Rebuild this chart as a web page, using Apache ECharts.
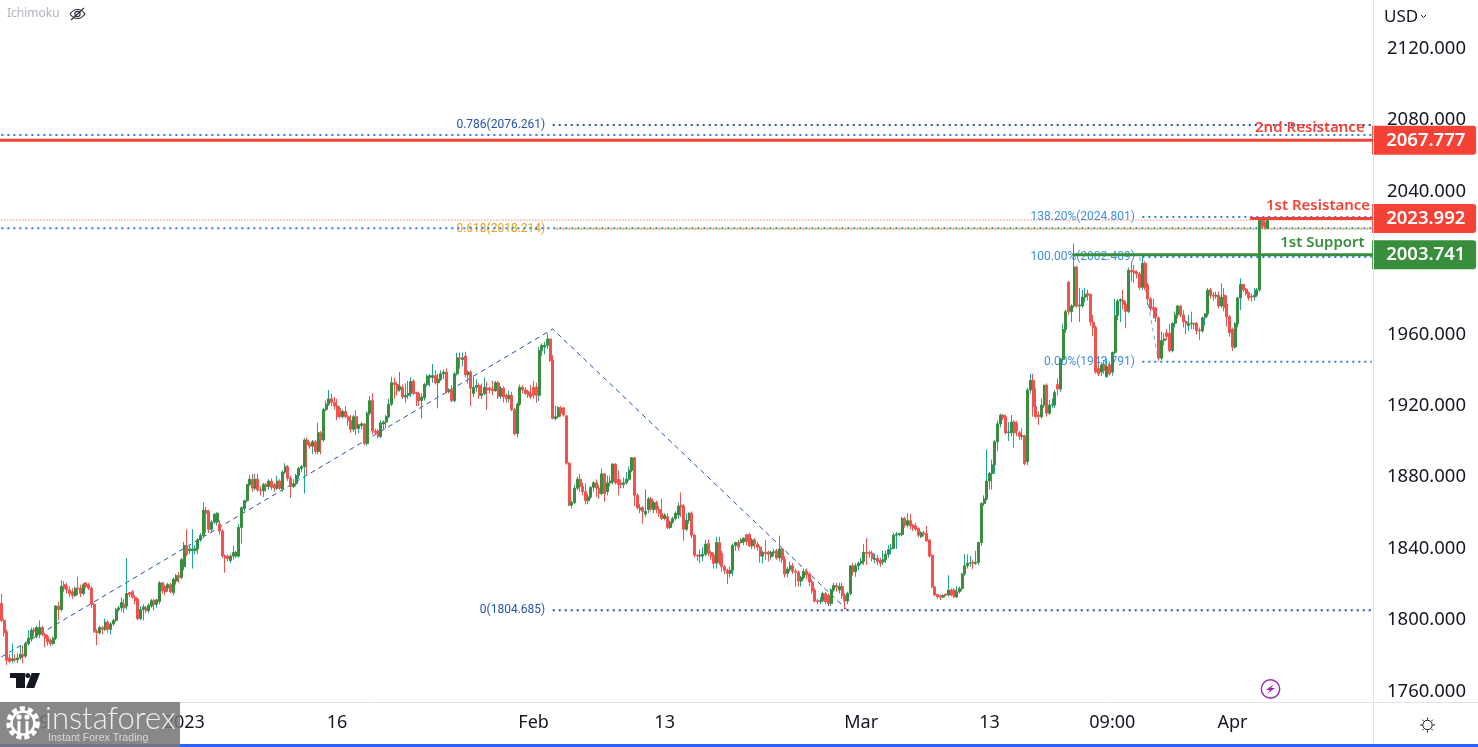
<!DOCTYPE html>
<html><head><meta charset="utf-8">
<style>html,body{margin:0;padding:0;background:#fff}#c{width:1478px;height:747px}</style>
<script src="https://cdn.jsdelivr.net/npm/echarts@6/dist/echarts.min.js"></script>
</head><body><div id="c"></div>
<script>
// each bar: [open, close, low, high]
const barsDec = [
[1808.5,1799,1798,1814],[1799,1792,1790,1800],[1792.6,1776.7,1774,1794],[1778,1776,1775,1780],[1776.5,1777.5,1775,1786],[1777.5,1777,1776,1780],[1777,1778,1775,1781],[1778,1780,1777,1785],[1780,1779,1775,1785],[1779,1786,1778,1787],
[1786,1789,1785,1793.5],[1788.5,1793.5,1787,1795],[1794,1793,1790,1795],[1790,1795,1789,1796],[1791,1795,1789,1799],[1795,1791,1790,1796],[1791,1789,1784,1792],[1790,1787,1785,1791],[1788,1786,1784.5,1789],[1786,1789,1785,1790],
[1789,1807,1788,1807.5],[1807,1805,1799,1809.5],[1805,1818,1804,1821.5],[1819,1817,1815,1821],[1818,1816,1814,1820],[1816,1814,1812,1818],[1815,1813,1811,1817],[1813,1817,1812,1818],[1817,1816.5,1813,1823.4],[1817,1814,1812,1819],
[1814,1819,1813,1820],[1820,1818,1817,1820.5],[1819,1817,1816,1820],[1817,1808,1806,1818],[1808,1793,1792,1809],[1793,1792,1785,1794],[1792,1795,1791,1796],[1795,1794,1791,1796],[1794,1798,1793,1800],[1798,1794,1792,1799],
[1794,1797,1791,1798],[1797,1799,1796,1800],[1799,1805,1798,1806],[1805,1806,1804,1807],[1806,1809,1804,1812],[1808,1806,1803,1811],[1807,1814,1805,1834],[1814.5,1813.5,1812,1815],[1815,1812,1811,1816],[1812,1810,1808,1813],
[1811,1800,1799,1811.5],[1800,1805,1799,1807],[1805,1806.5,1799,1808],[1806,1804.5,1803,1807],[1804.5,1807.5,1803,1808.5],[1807,1810,1806,1811],[1810,1808,1804.5,1811],[1808,1810.5,1806,1811],[1809.5,1820,1808,1821],[1820,1815.5,1814,1820.5],
[1818,1815,1813,1819],[1817,1819,1815,1820],[1819,1815,1814,1820],[1814.5,1822,1813,1823],[1821,1824,1819,1825],[1824,1823,1820,1826],[1823,1833,1822,1834],[1829,1841,1827,1843],[1840,1836,1835,1850],[1838,1839,1836,1841],
[1838,1839,1828,1850],[1838,1839,1836,1841],[1839,1844,1836,1845],[1844,1846.5,1843,1848],[1846.5,1860.7,1845,1865],[1860.5,1859,1848,1862.6],[1860,1850,1848,1861],[1850,1854,1848,1855],[1854,1858.5,1853,1859],[1854,1859,1852,1859.5]
];
const barsJan = [
[1853,1849,1847,1855],[1849,1835,1834,1850],[1835,1834,1825.6,1836],[1835,1833.5,1832,1836],[1832.5,1835,1831,1836],[1835,1837,1833,1841],[1835,1837,1834,1838],[1835,1851,1834,1853],[1851,1862,1842,1863],[1861.5,1866,1860,1866.5],
[1866,1875,1865,1875.5],[1875,1878,1874,1880.3],[1878,1873,1871,1881],[1873,1878,1872,1881],[1878,1872,1871,1881],[1872,1871.5,1869,1874],[1871.5,1875,1868,1876],[1875,1874,1871,1876],[1874,1877,1872,1878],[1877,1873.5,1872,1878.5],
[1875,1873,1871,1876],[1873,1877,1872,1880],[1877,1873,1872,1878],[1872.5,1882,1871,1883],[1882,1885,1881,1887],[1885,1878.5,1877,1886],[1878.5,1874,1867.5,1880],[1874,1875.5,1873,1878],[1875.5,1880,1874,1881],[1880,1884,1878,1885],
[1884,1885,1882,1886],[1885,1900,1870,1901],[1900,1897.5,1880,1901.4],[1898,1896.5,1895,1899],[1896.5,1899,1892,1900],[1899,1893.5,1892,1900],[1893.5,1904,1892,1909.6],[1904,1900,1892,1905],[1900,1917,1899,1918],[1917,1920,1916,1922],
[1920,1923,1919,1928],[1923,1921,1919,1926],[1921,1919,1917,1924],[1919,1913,1911,1923],[1917.6,1913,1912,1919],[1913,1916,1912,1917],[1916,1913,1912,1919],[1913,1911,1908,1914],[1911,1906,1904,1914],[1906,1913,1904.6,1914],
[1913,1906.5,1902.7,1916.7],[1906.5,1908.5,1903.6,1909],[1908,1909,1906,1910],[1909,1898,1897,1909.5],[1898,1915,1897,1916],[1915,1922,1914,1924.6],[1922,1905,1903,1926],[1905,1904,1902.7,1906.4],[1905,1902,1901,1906],[1902,1909.5,1901,1911],
[1909,1910,1906,1911],[1910,1913,1906.4,1914],[1913,1920,1912,1923],[1920,1932,1919,1935.4],[1932,1931,1923,1935],[1931,1927.5,1925,1932.6],[1928,1930,1927,1938],[1929.5,1924,1923,1931],[1924,1925,1920.8,1931.6],[1925,1926,1923,1933],
[1926,1932.7,1924,1935],[1933,1926,1925,1934],[1926.5,1926,1919,1927],[1926,1922,1919,1927],[1922,1924,1912,1926],[1923.5,1931,1922,1932],[1931,1935.6,1930,1937],[1935,1936,1930,1937],[1935,1936,1932,1942.5],[1936,1932,1931,1939],
[1932,1934,1917.7,1937],[1934,1937,1933,1939],[1937,1938,1934,1939.5],[1938,1927,1926,1940],[1927,1928,1926,1929],[1928,1922,1921,1930.7],[1922,1937,1921,1938],[1937,1946,1936,1948.8],[1946,1945.5,1940,1949],[1945,1946,1941,1949]
];
const barsFeb = [
[1947,1936.5,1935,1949.4],[1936.5,1938,1931.6,1939],[1938,1929,1919,1939],[1926,1929.5,1924,1935.4],[1929.5,1930.5,1927,1934],[1930.5,1925,1923,1932],[1925,1926,1923,1931.6],[1926,1929.5,1925,1935],[1929,1928,1916.7,1932.6],[1929,1928,1926,1930],
[1928.5,1927.5,1925,1933],[1927.5,1932,1927,1933],[1932,1924.5,1923,1933],[1924.5,1929,1923,1930],[1929,1924,1921,1930],[1925,1923,1921,1926],[1923,1925,1921,1927.5],[1925,1917,1916,1927],[1917,1903.5,1902.5,1918],[1903.5,1920,1901.4,1921],
[1920,1929.5,1919,1931],[1929.5,1928,1926,1930.7],[1928,1926,1925,1929.5],[1927,1925,1923.5,1928],[1926,1924,1923,1930.7],[1929.5,1925,1923,1933],[1929.5,1925,1920.8,1932],[1925,1950,1921.8,1952],[1950,1953,1947,1954],[1952,1953,1948,1955],
[1953,1956.5,1951,1959.6],[1956.5,1944.5,1943.5,1956.8],[1944.5,1912,1911.5,1947.5],[1912,1913,1911,1919],[1913,1918,1912,1919],[1918,1915,1913,1919],[1918,1914,1913,1918.2],[1913.5,1887,1886,1914],[1887,1863.5,1863,1887.5],[1863.5,1865,1861.7,1866],
[1865,1873,1864,1875],[1873,1878,1872,1879.4],[1878,1874,1871,1881],[1874,1871,1869,1876],[1871,1866,1864,1875.7],[1866,1868,1864,1870],[1868,1873.5,1867,1874],[1873.5,1876,1871,1877],[1876,1873,1868,1878],[1873,1870,1867,1875],
[1870,1881,1869,1884],[1881,1870,1865.4,1881.5],[1871,1876,1869,1880],[1876,1877,1874,1880],[1876.5,1886.5,1875,1887],[1886.5,1876,1875,1887],[1878,1875,1869,1883],[1876,1875,1873,1878],[1875,1876,1873,1879],[1876,1878,1875,1882],
[1878,1883,1877,1885],[1883,1890,1882,1890.5],[1890,1869,1863,1890.5],[1869,1862,1861,1870],[1861,1862,1859,1864],[1862,1860,1853,1863],[1858.5,1860,1857,1872.3],[1861,1867,1859,1868],[1867,1861.5,1860,1868],[1861,1865,1859,1866],
[1865,1861,1859,1866],[1861,1859,1857,1863],[1859,1856,1855,1867],[1856,1858,1855,1859],[1857,1851,1850,1859],[1851,1854,1850,1855],[1854,1856,1853,1857],[1856,1859,1855,1860],[1858,1863,1856,1865],[1863.5,1862.5,1857,1870.6],
[1863,1850,1843.6,1864],[1850,1855,1849,1859],[1855,1859,1853,1859.5],[1859,1846.7,1845,1860],[1846.7,1835.5,1834.5,1847.5],[1835.5,1835,1832.4,1836],[1835,1835.5,1831,1838.7],[1835,1836,1832,1840],[1836,1841.7,1835,1844],[1842,1836.5,1835,1844.3],
[1837,1835,1833,1838],[1835.5,1831,1828,1837],[1831,1842.6,1828,1845.8],[1842.6,1831.3,1830,1845.8],[1836.5,1829,1826,1838],[1829,1827,1825,1830],[1827,1825.3,1819.3,1828],[1825.3,1827,1823,1829],[1827,1841,1824,1842],[1841,1842.6,1838,1843]
];
const barsMar = [
[1842.6,1840,1838,1844],[1842.6,1844,1842,1845],[1843,1845,1841,1845.5],[1847,1843,1841,1847.3],[1847,1840.7,1840,1848],[1840.7,1844,1839,1845],[1844,1842,1839,1845],[1841.7,1840,1838,1843],[1840,1835,1831.2,1841],[1835,1837,1830.9,1838],
[1837.3,1836.5,1833,1844],[1837.3,1836,1832,1838],[1834.6,1837,1833,1838],[1837,1837.4,1835,1839],[1838,1834,1833,1839],[1834,1839,1832,1846.4],[1839,1833,1831,1839.3],[1833,1825,1823,1835],[1825.3,1827.7,1823,1829],[1827.7,1829.5,1826,1832],
[1829.5,1826.5,1825,1831],[1826.5,1826,1817.8,1828],[1826,1821,1817.8,1827],[1821,1823,1818,1824],[1823,1826.3,1822,1828],[1826.3,1824.4,1822,1828],[1825,1820.5,1818,1826],[1820.5,1815.5,1814,1822],[1816,1809.8,1809,1817],[1810,1809.5,1808,1811],
[1809.5,1810,1808,1812],[1810,1814,1809,1815],[1814,1809.4,1808,1815],[1813,1808.5,1807,1814],[1808.5,1816,1807,1817],[1816,1818.5,1815,1820],[1818.5,1817.5,1815,1820],[1816,1818,1814,1820],[1818,1813,1811,1820],[1813,1809.8,1805,1814],
[1809.8,1814,1808,1815],[1814,1829.5,1813,1830],[1829.5,1826.3,1824,1831],[1826.3,1829.5,1823.4,1831],[1829.5,1831,1827,1832],[1831,1832,1830,1834],[1832,1837,1830,1841.7],[1837,1836.5,1830,1845],[1837,1836.5,1834,1838],[1836.5,1833.7,1832,1838],
[1833,1833.7,1831,1836.5],[1833.7,1831.8,1830,1835.5],[1832.7,1831,1829,1834],[1831.8,1833,1830,1838],[1833,1836,1831,1838],[1836,1838.6,1834,1841],[1839,1839.3,1836,1841.7],[1839.3,1846.7,1839,1848],[1846.7,1847.3,1839,1848.5],[1847,1847.7,1846,1848],
[1847,1856,1846,1857],[1856,1852.3,1851,1857],[1852.3,1854.8,1851,1859],[1854.8,1851.8,1850,1858.5],[1852.3,1851,1849,1853],[1851.8,1850,1849,1853.6],[1850.5,1846.7,1845.5,1851],[1846,1848,1845,1849],[1848,1847.3,1846,1849],[1847.7,1843.5,1843,1851.8],
[1844,1835,1834,1844.5],[1835.5,1817.8,1817,1836],[1817.8,1813.2,1812.5,1818],[1813.5,1812.2,1811,1814],[1812.8,1812,1810.3,1813.5],[1812,1813,1811.8,1813.5],[1813.7,1813.1,1812.5,1814],[1813.2,1816,1812.5,1824.3],[1816,1813.2,1812.5,1817],[1816,1812.2,1811.5,1817],
[1812.2,1815,1811.5,1818],[1815,1816.8,1814,1818],[1816.8,1825,1815.5,1825.5],[1825,1829.5,1824,1836],[1829.5,1831,1828,1836],[1831,1831.3,1829,1835],[1831.3,1831,1827.7,1833],[1831,1831.5,1830,1838],[1831.5,1842.6,1830,1843],[1842.6,1864.5,1840.7,1865],
[1864.5,1867,1863,1869],[1867,1877,1866,1894.7],[1877,1881.3,1872.3,1882],[1881.3,1886,1872.3,1889],[1886,1899,1881,1900],[1899,1909,1893.7,1911],[1909,1913.9,1907,1914.8],[1913.9,1912.6,1911,1914.5],[1913,1904,1903,1914],[1904,1904.5,1899.5,1910],
[1904,1910,1902,1914],[1910,1904,1895.6,1911],[1909.3,1905,1902,1910.7],[1904,1902,1900,1905],[1902,1902.3,1900,1906.4],[1902.3,1886.8,1885.9,1903],[1887.8,1928,1886,1929],[1928,1933.4,1926,1937],[1933.4,1918.6,1913,1937],[1918.6,1913,1912,1929]
];
const barsApr = [
[1914,1913,1908.4,1916],[1913,1919.5,1912,1923.3],[1919.5,1930.6,1918,1931],[1930.6,1915,1913,1931.7],[1915,1919.5,1914,1922.3],[1919.5,1919.9,1918,1923.3],[1919.5,1926.5,1918,1928],[1931,1928.5,1925,1934.5],[1928.5,1945,1927,1946],[1945,1961.8,1944,1965],
[1961.8,1971.8,1960,1973],[1988.3,1971.8,1970,1989],[1971.8,1975,1966,1976],[1975,1996.8,1974,2010],[1996.8,1975,1974,1997.5],[1975,1975.5,1966,1985],[1975,1980,1974,1984],[1980,1981.5,1977,1985],[1982,1981,1978,1984],[1981.5,1966,1963.8,1982],
[1966,1963,1958,1970],[1963,1938,1937,1964],[1940,1937,1935.8,1942],[1938,1942,1936,1943],[1942,1939,1937,1944],[1935.5,1941,1934.8,1945.7],[1942,1937,1936,1944],[1938,1949,1936,1949.5],[1949,1969.7,1948,1979],[1969.7,1977.8,1967,1979],
[1977.8,1978.5,1966,1979.3],[1978,1976,1973,1984],[1976,1972,1962.5,1978],[1972,1995,1971,1996.5],[1995,1994,1988.6,1999.8],[1994.5,1993.5,1988,1998],[1994,1993,1990.4,1995],[1993,1985.4,1984,1994],[1985.4,1998.9,1984,2003.5],[1998.9,1985.4,1984,2000],
[1987,1979,1975.5,1988],[1979,1973.5,1972,1980],[1974,1973,1968,1979],[1974,1968.4,1966,1974.6],[1968.4,1945.8,1944.8,1969],[1945.8,1955.7,1944.8,1960.6],[1955.7,1956.5,1953,1959.7],[1960,1958,1956,1962],[1959.7,1950,1949,1965],[1950,1965.3,1949,1966],
[1965.3,1970,1963,1972],[1970,1975,1968,1975.5],[1975,1970,1968.6,1975.5],[1970,1966,1963,1972.7],[1966.2,1965,1959.3,1967],[1964,1965,1961,1970],[1965,1965.5,1962,1971.8],[1965.3,1964.8,1962,1965.5],[1965.3,1961.2,1959,1966],[1961.5,1961,1955.9,1963],
[1961,1968.4,1960,1969],[1968.4,1970.5,1964,1971],[1970.5,1983.9,1969,1985],[1984,1981,1979,1985],[1981,1980.5,1978,1983],[1980.5,1981,1979,1983],[1981,1975,1973.6,1983],[1975,1980,1974,1987.7],[1981,1974,1972,1985],[1976,1969,1963.4,1981],
[1969,1960,1957.8,1970],[1962,1952,1949.8,1963],[1952,1965,1951,1966],[1965,1979.5,1963,1980],[1979.5,1987,1972.7,1990.4],[1987,1984,1983,1987.5],[1984.5,1982,1981,1985],[1982.5,1979.5,1978,1983],[1980.5,1980,1977.4,1982],[1980,1981,1978,1985],
[1981,1984,1980,1985],[1984,2023,1983,2024],[2023,2019.5,2018.5,2024],[2022,2019,2018,2024],[2018.5,2024.5,2018,2025]
];
const allBars = [...barsDec, ...barsJan, ...barsFeb, ...barsMar, ...barsApr];
const emptyBarSlots = 38;
const yTicks = [1760,1800,1840,1880,1920,1960,2040,2080,2120];
const xTickLabels = ['19','2023','16','Feb','13','Mar','13','09:00','Apr'];
const xTickBars = [14,67,123,195,243,315,362,407,451];
const resistance2 = 2067.777, resistance1 = 2023.992, support1 = 2003.741;
const lastBar = allBars.length + emptyBarSlots - 1;

const categories = Array.from({length: lastBar + 1}, (_, i) => {
  const k = xTickBars.indexOf(i);
  return k >= 0 ? xTickLabels[k] : String(i);
});

const GREEN = '#388e3c', TEAL = '#1fa595', RED = '#ef5350', TAGRED = '#f44336';
const BLUE = '#2b7de9', DARKBLUE = '#2353b3', ORANGE = '#e8a317', FIBBLUE = '#3d8fe6';
const HIDDEN = 'rgba(0,0,0,0)';

function hLine(from, to, price, color, width, type, z, dashOffset) {
  const lineStyle = {color, width, type};
  if (type === 'solid') lineStyle.cap = 'square';
  if (dashOffset) lineStyle.dashOffset = dashOffset;
  return {type:'line', data:[[from,price],[to,price]], symbol:'none', silent:true, animation:false, z:z||3, lineStyle};
}
function fibLabel(bar, price, text, color) {
  return {value:[bar,price], label:{show:true, position:'left', distance:7, formatter:text, color,
    fontFamily:'Roboto', fontSize:12}};
}
function noteLabel(bar, price, text, color) {
  return {value:[bar,price], label:{show:true, position:'left', distance:1, formatter:text, color,
    fontFamily:'Noto Sans', fontSize:15, fontWeight:600}};
}
function priceTag(price, color) {
  return {value:[lastBar,price], label:{show:true, position:'right', distance:0, formatter:price.toFixed(3), color:'#fff',
    backgroundColor:color, fontFamily:'Noto Sans', fontSize:18.5, fontWeight:600, width:90, height:29, lineHeight:29,
    padding:[0,0,0,14], borderRadius:[0,3,3,0]}};
}
const ink = (x1,y1,x2,y2,color,w) => ({type:'line', shape:{x1,y1,x2,y2}, style:{stroke:color,lineWidth:w}});

const graphicEls = [
  {type:'rect', shape:{x:0,y:744,width:1478,height:3}, style:{fill:'#2962ff'}},
  ink(0,702.5,1478,702.5,'#e0e3eb',1),
  ink(1373.5,0,1373.5,744,'#e0e3eb',1),
  {type:'text', style:{x:1384,y:9,text:'USD',font:'17px "Noto Sans"',fill:'#131722'}},
  {type:'polyline', shape:{points:[[1421,15],[1423.5,17.5],[1426,15]]}, style:{stroke:'#131722',lineWidth:1,fill:'none'}},
  {type:'text', style:{x:7,y:8,text:'Ichimoku',font:'12px "Noto Sans"',fill:'#b2b5be'}},
  {type:'bezierCurve', shape:{x1:70,y1:14,cpx1:74,cpy1:8,cpx2:81,cpy2:8,x2:85,y2:14}, style:{fill:'none',stroke:'#2a2e39',lineWidth:1.1}},
  {type:'bezierCurve', shape:{x1:70,y1:14,cpx1:74,cpy1:20,cpx2:81,cpy2:20,x2:85,y2:14}, style:{fill:'none',stroke:'#2a2e39',lineWidth:1.1}},
  {type:'circle', shape:{cx:77.5,cy:14,r:2.6}, style:{fill:'none',stroke:'#2a2e39',lineWidth:1.1}},
  ink(71,20,84,8,'#2a2e39',1.1),
  {type:'polygon', shape:{points:[[10,673],[25,673],[25,688],[16,688],[16,678],[10,678]]}, style:{fill:'#131722'}},
  {type:'circle', shape:{cx:27.8,cy:675.5,r:2.5}, style:{fill:'#131722'}},
  {type:'polygon', shape:{points:[[31.7,673],[40,673],[34.3,688],[26,688]]}, style:{fill:'#131722'}},
  {type:'circle', shape:{cx:1270.5,cy:689,r:9.2}, style:{fill:'#fff',stroke:'#9c27b0',lineWidth:1.4}},
  {type:'polygon', shape:{points:[[1274,684],[1266,690],[1270,690],[1267,694],[1275,688],[1271,688]]}, style:{fill:'#9c27b0'}},
  {type:'circle', shape:{cx:1427.5,cy:725,r:4.7}, style:{fill:'none',stroke:'#131722',lineWidth:1}},
  ink(1427.5,717.5,1427.5,719.5,'#131722',1), ink(1427.5,730.5,1427.5,732.5,'#131722',1),
  ink(1420,725,1422,725,'#131722',1), ink(1433,725,1435,725,'#131722',1),
  ink(1422.2,719.7,1423.6,721.1,'#131722',1), ink(1431.4,728.9,1432.8,730.3,'#131722',1),
  ink(1422.2,730.3,1423.6,728.9,'#131722',1), ink(1431.4,721.1,1432.8,719.7,'#131722',1),
  {type:'rect', shape:{x:0,y:702,width:180,height:45}, style:{fill:'rgba(120,120,120,0.88)'}},
  {type:'circle', shape:{cx:23,cy:723,r:14.5}, style:{fill:'none',stroke:'#fff',lineWidth:4.5,lineDash:[5,3.1]}},
  {type:'circle', shape:{cx:23,cy:723,r:11.5}, style:{fill:'none',stroke:'#fff',lineWidth:2.5}},
  {type:'circle', shape:{cx:19,cy:717,r:2.6}, style:{fill:'#fff'}},
  {type:'circle', shape:{cx:27,cy:717,r:2.6}, style:{fill:'#fff'}},
  {type:'rect', shape:{x:17.5,y:721,width:3,height:13}, style:{fill:'#fff'}},
  {type:'rect', shape:{x:25.5,y:721,width:3,height:13}, style:{fill:'#fff'}},
  {type:'text', style:{x:45,y:703,text:'instaforex',font:'300 31px Lato',fill:'#eeeeee'}},
  {type:'text', style:{x:48,y:733,text:'Instant Forex Trading',font:'10.6px "Liberation Sans"',fill:'#d8d8d8'}}
].map(e => Object.assign({silent:true, z:100}, e));

const option = {
  animation:false,
  backgroundColor:'#ffffff',
  grid:{left:0, right:105, top:0, bottom:45},
  xAxis:{type:'category', data:categories, boundaryGap:true,
    axisLine:{show:false}, axisTick:{show:false}, splitLine:{show:false},
    axisLabel:{interval:(i)=>xTickBars.includes(i), color:'#131722', fontFamily:'Noto Sans', fontSize:18, margin:12, hideOverlap:false}},
  yAxis:{type:'value', position:'right', min:1753.3, max:2146.3, scale:true,
    axisLine:{show:false}, axisTick:{show:false}, splitLine:{show:false},
    axisLabel:{customValues:yTicks, formatter:(v)=>v.toFixed(3), color:'#131722', fontFamily:'Noto Sans', fontSize:18.5, margin:14, verticalAlign:'top', lineHeight:3}},
  graphic:{elements:graphicEls},
  series:[
    hLine(0,lastBar,2070.7,BLUE,2,[2,4]),
    hLine(0,lastBar,2018.5,BLUE,2,[2,4]),
    hLine(0,lastBar,2023.1,TAGRED,1,[1,2]),
    hLine(202,lastBar,2076.261,DARKBLUE,2,[2,4]),
    hLine(202,lastBar,2018.214,ORANGE,2,[2,4],3,2.3),
    hLine(202,lastBar,1804.685,DARKBLUE,2,[2,4]),
    hLine(418,lastBar,2024.801,BLUE,2,[2,4]),
    hLine(418,lastBar,2002.409,BLUE,2,[2,4]),
    hLine(418,lastBar,1943.791,BLUE,2,[2,4]),
    {type:'line', data:[[0,1778.5],[202,1962.1],[310,1804.685]], symbol:'none', silent:true, z:2,
      lineStyle:{color:DARKBLUE,width:1,type:[5,4]}},
    {type:'line', data:[[417,2002.409],[424,1943.791]], symbol:'none', silent:true, z:2,
      lineStyle:{color:'#6aa9ee',width:1,type:[4,4]}},
    {type:'scatter', silent:true, z:1, symbol:'circle', symbolSize:1, itemStyle:{color:HIDDEN,opacity:1},
      data:[
        fibLabel(202,2076.261,'0.786(2076.261)',DARKBLUE),
        fibLabel(202,2018.214,'0.618(2018.214)',ORANGE),
        fibLabel(202,1804.685,'0(1804.685)',DARKBLUE),
        fibLabel(418,2024.801,'138.20%(2024.801)',FIBBLUE),
        fibLabel(418,2002.409,'100.00%(2002.409)',FIBBLUE),
        fibLabel(418,1943.791,'0.00%(1943.791)',FIBBLUE)
      ]},
    {type:'candlestick', z:5, barWidth:1, silent:true, data:allBars,
      itemStyle:{color:TEAL,color0:RED,borderColor:TEAL,borderColor0:RED,borderWidth:1}},
    {type:'candlestick', z:6, barWidth:2.5, silent:true,
      data:allBars.map(b=>[b[0],b[1],Math.min(b[0],b[1]),Math.max(b[0],b[1])]),
      itemStyle:{color:GREEN,color0:RED,borderColor:GREEN,borderColor0:RED,borderWidth:1}},
    hLine(0,lastBar,resistance2,TAGRED,3,'solid',7),
    hLine(458,lastBar,resistance1,TAGRED,3,'solid',7),
    hLine(393,lastBar,support1,GREEN,3,'solid',7),
    {type:'scatter', silent:true, z:8, symbol:'circle', symbolSize:1, itemStyle:{color:HIDDEN,opacity:1},
      data:[
        noteLabel(500,2074.7,'2nd Resistance',TAGRED),
        noteLabel(502,2031,'1st Resistance',TAGRED),
        noteLabel(500,2010.3,'1st Support',GREEN),
        priceTag(resistance2,TAGRED),
        priceTag(resistance1,TAGRED),
        priceTag(support1,GREEN)
      ]}
  ]
};
const chart = echarts.init(document.getElementById('c'), null, {renderer:'canvas'});
chart.setOption(option);
</script></body></html>
